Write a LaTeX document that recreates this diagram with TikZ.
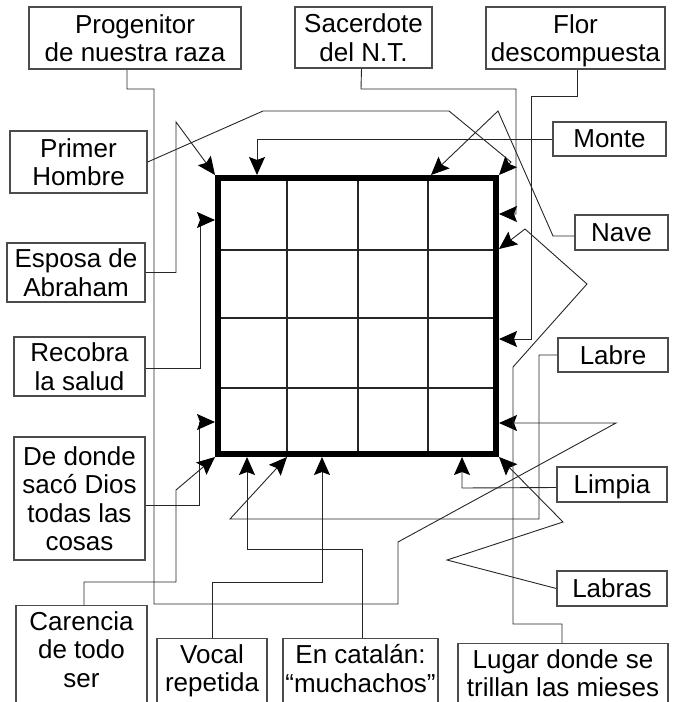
\documentclass[tikz,border=0pt]{standalone}
\usepackage{fontspec}
\setmainfont{Liberation Sans}
\usepackage{tikz}
\usetikzlibrary{arrows.meta}
\usetikzlibrary{positioning}
\tikzstyle{line} = [draw, black!85, line width=0.9pt, -{Stealth[length=18pt, width=16pt, inset=3pt, color=black]}]

\begin{document}
\begin{tikzpicture}[x=1pt, y=-1pt,
				clue/.style={draw=black!70, line width=1.3pt, rectangle, inner sep=0pt, text depth=0pt, align=center, font=\fontsize{26}{28.5}\selectfont},
				cluebottom/.style={clue, anchor=north, inner ysep=6pt, text depth=40pt}]

				\useasboundingbox (0,0) rectangle (676,702);
				\clip (0,0) rectangle (676,702);

				% clue boxes
				\node (node1) at (135,38) [clue, minimum width=212pt, minimum height=62pt] {Progenitor\\de nuestra raza};
				\node (node2) at (363.5,37.5) [clue, minimum width=137pt, minimum height=61pt] {Sacerdote\\del N.T.};
				\node (node3) at (575.5,38) [clue, minimum width=179pt, minimum height=62pt] {Flor\\descompuesta};
				\node (node4) at (78.5,162) [clue, minimum width=137pt, minimum height=62pt] {Primer\\Hombre};
				\node (node5) at (609.5,139) [clue, minimum width=113pt, minimum height=34pt] {Monte};
				\node (node6) at (621.5,232.5) [clue, minimum width=93pt, minimum height=35pt] {Nave};
				\node (node7) at (76,272.5) [clue, minimum width=138pt, minimum height=59pt] {Esposa de\\Abraham};
				\node (node8) at (79.5,366.5) [clue, minimum width=131pt, minimum height=59pt] {Recobra\\la salud};
				\node (node9) at (79.5,498.5) [clue, minimum width=131pt, minimum height=123pt] {De donde\\sacó Dios\\todas las\\cosas};
				\node (node10) at (613,355) [clue, minimum width=110pt, minimum height=34pt] {Labre};
				\node (node11) at (612,484.5) [clue, minimum width=110pt, minimum height=35pt] {Limpia};
				\node (node12) at (612,588.5) [clue, minimum width=110pt, minimum height=35pt] {Labras};
				\node (node13) at (81.5,605) [cluebottom, minimum width=131pt] {Carencia\\de todo\\ser};
				\node (node14) at (212,638) [cluebottom, minimum width=110pt] {Vocal\\repetida};
				\node (node15) at (360.5,638) [cluebottom, minimum width=155pt] {En catalán:\\“muchachos”};
				\node (node16) at (563,643) [cluebottom, minimum width=210pt] {Lugar donde se\\trillan las mieses};

				% the crossword
				\foreach \x in {287,358,428}
					\draw [black!85, line width=1.2pt] (\x,178) -- (\x,454);
				\foreach \y in {250,318,388}
					\draw [black!85, line width=1.2pt] (218,\y) -- (496,\y);
				\node (node17) at (357,316) [draw, line width=5.5pt, minimum width=278pt, minimum height=276pt, inner sep=0pt] {};

				% arrow targets on the crossword
				\foreach \n/\x/\y in {t1/499/423, t2/499/175, t3/499/214, t4/499/339, t5/257/175, t6/431/175, t7/215/175, t8/215/220,
						t9/215/422, t10/215/457, t11/322/457, t12/247/457, t13/287/457, t14/462/457, t15/499/457, t16/499/249}
					\coordinate (\n) at (\x,\y);

				\draw [line] ([xshift=-8pt]node1.south) -- (127,89) -- (154,89) -- (154,604) -- (398,604) -- (398,542) -- (616,423) -- (t1);
				\draw [line] (node4.east) -- (263,111) -- (449,111) -- (511,162) -- (t2);
				\draw [line] ([xshift=-2pt]node2.south) -- (361,89) -- (516,89) -- (516,214) -- (t3);
				\draw [line] ([xshift=1.5pt]node3.south) -- (577,96) -- (531,96) -- (531,339) -- (t4);
				\draw [line] (node5.west) -- (257,139) -- (t5);
				\draw [line] ([yshift=-3.5pt]node6.west) -- (553,236) -- (498,111) -- (t6);
				\draw [line] (node7.east) -- (176,272.5) -- (176,122) -- (t7);
				\draw [line] ([yshift=-1.5pt]node8.east) -- (200,368) -- (200,220) -- (t8);
				\draw [line] ([yshift=-6.5pt]node9.east) -- (199,505) -- (199,422) -- (t9);
				\draw [line] ([xshift=2.5pt]node13.north) -- (84,582) -- (176,582) -- (176,490) -- (t10);
				\draw [line] (node14.north) -- (212,582) -- (322,582) -- (t11);
				\draw [line] ([xshift=1.5pt]node15.north) -- (362,549) -- (247,549) -- (t12);
				\draw [line] (node10.west) -- (539,355) -- (539,519) -- (230,519) -- (t13);
				\draw [line] ([yshift=-3pt]node11.west) -- (462,488) -- (t14);
				\draw [line] (node12.west) -- (447,560) -- (563,522) -- (t15);
				\draw [line] ([xshift=-1pt]node16.north) -- (562,624) -- (513,624) -- (513,367) -- (587,284) -- (525,229) -- (t16);

			\end{tikzpicture}
\end{document}
